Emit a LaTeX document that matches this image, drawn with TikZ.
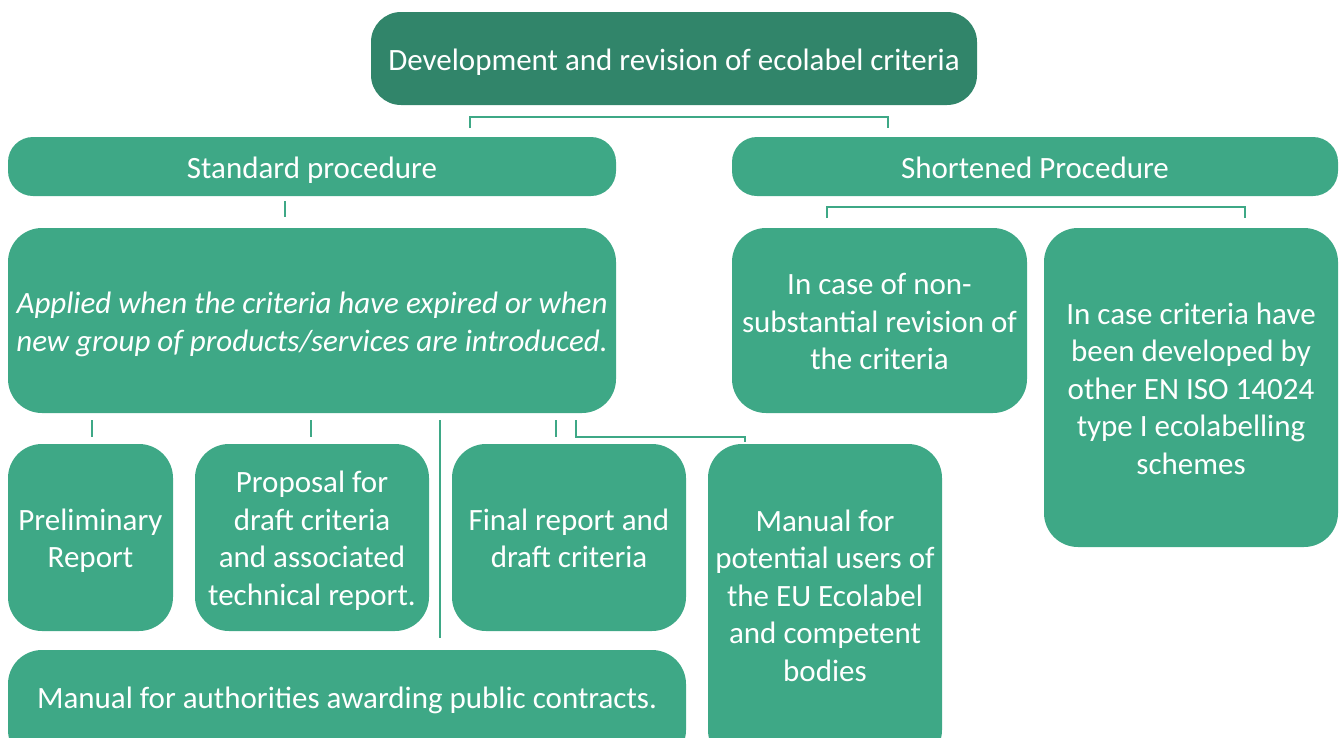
\documentclass[tikz,border=0pt]{standalone}
\usepackage{fontspec}
\setmainfont{Carlito}
\definecolor{dk}{HTML}{31856A}
\definecolor{lt}{HTML}{3EA886}
\newcommand\lftstrut{\rule{0pt}{31pt}}
\newcommand\lftdepth{\rule[-8pt]{0pt}{8pt}}
\begin{document}
\begin{tikzpicture}[x=1pt,y=-1pt,
  box/.style={fill=lt, draw=none, rounded corners=34pt, text=white, align=center, inner sep=0pt, font=\fontsize{31}{37.5}\selectfont},
  txt/.style={text=white, align=center, inner sep=0pt, font=\fontsize{31}{37.5}\selectfont},
  conn/.style={draw=lt, line width=2.8pt}]
\useasboundingbox (0,0) rectangle (1339,737);
% boxes
\node[box, fill=dk, rounded corners=30pt, minimum width=606pt, minimum height=93pt] (top) at (674,58.5) {\lftstrut Development and revision of ecolabel criteria\lftdepth};
\node[box, rounded corners=25pt, minimum width=608pt, minimum height=59pt] (std) at (312,166.5) {\lftstrut Standard procedure\lftdepth};
\node[box, rounded corners=25pt, minimum width=606pt, minimum height=59pt] (sht) at (1035,166.5) {\lftstrut Shortened Procedure\lftdepth};
\node[box, minimum width=608pt, minimum height=185pt, font=\fontsize{31}{38}\selectfont\itshape] (app) at (312,320.5) {\lftstrut Applied when the criteria have expired or when\\new group of products/services are introduced.\lftdepth};
\node[box, minimum width=295pt, minimum height=185pt] (nsub) at (879.5,320.5) {\lftstrut In case of non-\\substantial revision of\\the criteria\lftdepth};
\node[box, minimum width=294pt, minimum height=319pt] (oth) at (1191,387.5) {\lftstrut In case criteria have\\been developed by\\other EN ISO 14024\\type I ecolabelling\\schemes\lftdepth};
\node[box, minimum width=165pt, minimum height=187pt] (pre) at (90.5,537.5) {\lftstrut Preliminary\\Report\lftdepth};
\node[box, minimum width=234pt, minimum height=187pt] (prop) at (312,537.5) {\lftstrut Proposal for\\draft criteria\\and associated\\technical report.\lftdepth};
\node[box, minimum width=234pt, minimum height=187pt] (fin) at (569,537.5) {\lftstrut Final report and\\draft criteria\lftdepth};
\node[box, minimum width=234pt, minimum height=320pt] (mp) at (825,604) {};
\node[txt] (mpt) at (825,595.5) {Manual for\\potential users of\\the EU Ecolabel\\and competent\\bodies};
\node[box, minimum width=678pt, minimum height=114pt] (auth) at (347,707) {};
\node[txt] (autht) at (347,700) {Manual for authorities awarding public contracts.};
% connectors
\coordinate (a1) at (470,128); \coordinate (a2) at (470,117);
\coordinate (a3) at (888,117); \coordinate (a4) at (888,128);
\draw[conn] (a1) -- (a2) -- (a3) -- (a4);
\coordinate (s1) at (285,201); \coordinate (s2) at (285,217);
\draw[conn] (s1) -- (s2);
\coordinate (b1) at (827,218); \coordinate (b2) at (827,207);
\coordinate (b3) at (1245,207); \coordinate (b4) at (1245,218);
\draw[conn] (b1) -- (b2) -- (b3) -- (b4);
\coordinate (t1) at (92,420); \coordinate (t2) at (92,437);
\draw[conn] (t1) -- (t2);
\coordinate (t3) at (311,420); \coordinate (t4) at (311,437);
\draw[conn] (t3) -- (t4);
\coordinate (t5) at (556,420); \coordinate (t6) at (556,437);
\draw[conn] (t5) -- (t6);
\coordinate (l1) at (440,420); \coordinate (l2) at (440,638);
\draw[conn] (l1) -- (l2);
\coordinate (m1) at (576,420); \coordinate (m2) at (576,437);
\coordinate (m3) at (745,437); \coordinate (m4) at (745,442);
\draw[conn] (m1) -- (m2) -- (m3) -- (m4);
\end{tikzpicture}
\end{document}
